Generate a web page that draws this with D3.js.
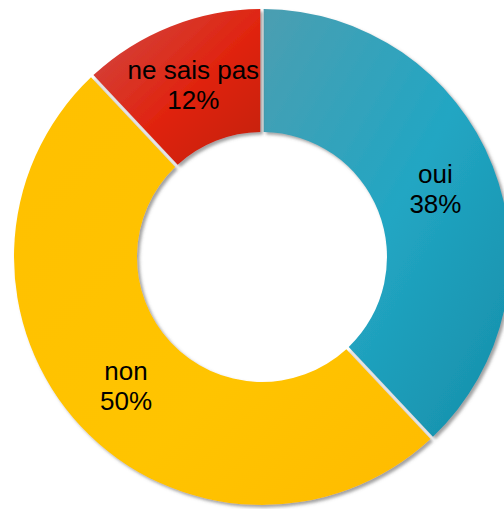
<!DOCTYPE html>
<html><head><meta charset="utf-8">
<script src="https://cdn.jsdelivr.net/npm/d3@7"></script>
<style>body{margin:0;background:#fff;}svg{display:block;}</style>
</head><body>
<script>
const categories = ["oui", "non", "ne sais pas"];
const values = [38, 50, 12];
const labels = ["38%", "50%", "12%"];

const W = 504, H = 509, cx = 262, cy = 257, rOut = 248, rIn = 125;
const svg = d3.select("body").append("svg").attr("width", W).attr("height", H);
const defs = svg.append("defs");
const f = defs.append("filter").attr("id", "sh").attr("x", "-10%").attr("y", "-10%").attr("width", "130%").attr("height", "130%");
f.append("feDropShadow").attr("dx", 2.5).attr("dy", 2.5).attr("stdDeviation", 1.8).attr("flood-color", "#555").attr("flood-opacity", 0.55);

const grads = [
  [["0%", "#4b9eb1"], ["50%", "#22a6c3"], ["100%", "#158ea9"]],
  [["0%", "#ffc000"], ["60%", "#ffc400"], ["100%", "#ffbb00"]],
  [["0%", "#cf4a47"], ["55%", "#e0240f"], ["100%", "#c21f0a"]]
];
grads.forEach((g, i) => {
  const lg = defs.append("linearGradient").attr("id", "g" + i)
    .attr("x1", "0%").attr("y1", "0%").attr("x2", "100%").attr("y2", "100%");
  g.forEach(s => lg.append("stop").attr("offset", s[0]).attr("stop-color", s[1]));
});

const pie = d3.pie().sort(null).value(d => d)(values);
const arc = d3.arc().innerRadius(rIn).outerRadius(rOut).padAngle(0.012);
const lab = d3.arc().innerRadius((rIn + rOut) / 2).outerRadius((rIn + rOut) / 2);

const g = svg.append("g").attr("transform", `translate(${cx},${cy})`);
g.selectAll("path").data(pie).join("path")
  .attr("d", arc).attr("fill", (d, i) => `url(#g${i})`).attr("filter", "url(#sh)");

const t = g.selectAll("text").data(pie).join("text")
  .attr("transform", d => `translate(${lab.centroid(d)})`)
  .attr("text-anchor", "middle")
  .style("font-family", "Liberation Sans, Arial, sans-serif").style("font-size", "26px").attr("fill", "#000");
t.append("tspan").attr("x", 0).attr("y", -5).text((d, i) => categories[i]);
t.append("tspan").attr("x", 0).attr("y", 25).text((d, i) => labels[i]);
</script>
</body></html>
